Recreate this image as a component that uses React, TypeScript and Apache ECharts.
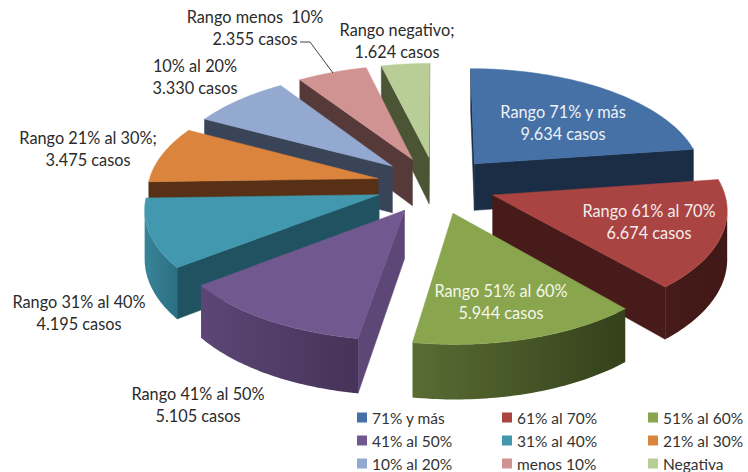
import React, { useEffect, useRef } from "react";
import * as echarts from "echarts";

// ---- data
const sliceNames = ["71% y más", "61% al 70%", "51% al 60%", "41% al 50%", "31% al 40%", "21% al 30%", "10% al 20%", "menos 10%", "Negativa"];
const sliceCases = [9634, 6674, 5944, 5105, 4195, 3475, 3330, 2355, 1624];
const labelHeads = ["Rango 71% y más", "Rango 61% al 70%", "Rango 51% al 60%", "Rango 41% al 50%", "Rango 31% al 40%", "Rango 21% al 30%;", "10% al 20%", "Rango menos  10%", "Rango negativo;"];

// ---- styles
const topColors = ["#4571A7", "#A94442", "#89A54E", "#71588F", "#4198AF", "#DB843D", "#93A9CF", "#D19392", "#B9CD96"];
const wallColors = ["#1A2D45", "#461B19", "#35421C", "#5D4777", "#205261", "#573016", "#3A4459", "#563A39", "#4B5435"];
const rimLeft = ["#1A2D45", "#461B19", "#596C33", "#5B4675", "#398498", "#573016", "#3A4459", "#563A39", "#4B5435"];
const rimRight = ["#1A2D45", "#401816", "#34411B", "#463358", "#2C6F83", "#573016", "#3A4459", "#563A39", "#4B5435"];
const labelColors = ["#EEF2F7", "#F5ECEC", "#F4F7EC", "#2B2B2B", "#2B2B2B", "#2B2B2B", "#2B2B2B", "#2B2B2B", "#2B2B2B"];
const labelSpots = [[563, 122], [649, 221], [501, 301], [198, 404], [79, 312], [88, 148], [195, 76], [255, 27], [397, 40]];
const legendColumns = [
  { names: [0, 3, 6], left: 357 },
  { names: [1, 4, 7], left: 502 },
  { names: [2, 5, 8], left: 648 },
];

// ---- projection of the pie plane
const CX = 436, CY = 185, SCALE_X = 230, SCALE_Y = 110, PERSPECTIVE = 0.11, EXPLODE = 0.26, DEPTH = 47.5;

const total = sliceCases.reduce((a, b) => a + b, 0);
const starts: number[] = [];
sliceCases.reduce((acc, v, i) => { starts[i] = acc; return acc + (v / total) * 2 * Math.PI; }, 0);
const sweepOf = (i: number) => (sliceCases[i] / total) * 2 * Math.PI;
const midOf = (i: number) => starts[i] + sweepOf(i) / 2;

function project(x: number, z: number, drop = 0): number[] {
  const w = 1 - PERSPECTIVE * z;
  return [CX + (SCALE_X * x) / w, CY + (SCALE_Y * z) / w + (drop ? drop / w : 0)];
}

function outline(i: number, drop = 0): number[][] {
  const ox = EXPLODE * Math.sin(midOf(i));
  const oz = -EXPLODE * Math.cos(midOf(i));
  const pts = [project(ox, oz, drop)];
  const steps = 48;
  for (let k = 0; k <= steps; k++) {
    const a = starts[i] + (sweepOf(i) * k) / steps;
    pts.push(project(ox + Math.sin(a), oz - Math.cos(a), drop));
  }
  return pts;
}

const depthOrder = sliceCases.map((_, i) => i).sort((a, b) => -Math.cos(midOf(a)) + Math.cos(midOf(b)));

function renderSlice(params: any) {
  const i = params.seriesIndex;
  const top = outline(i);
  const bottom = outline(i, DEPTH);
  const n = top.length;
  const children: any[] = [];
  // radial walls: apex -> rim start, rim end -> apex
  const radial: number[][] = [[0, 1], [n - 1, 0]];
  radial.forEach(([a, b]) => {
    if (top[b][0] < top[a][0]) {
      children.push({
        type: "polygon",
        shape: { points: [top[a], top[b], bottom[b], bottom[a]] },
        style: { fill: wallColors[i], stroke: wallColors[i], lineWidth: 0.5 },
      });
    }
  });
  // rim wall: the stretches of the arc that face the viewer
  const rimUp: number[][] = [];
  const rimDown: number[][] = [];
  for (let k = 1; k < n; k++) {
    const facing = (k < n - 1 && top[k + 1][0] < top[k][0]) || (k > 1 && top[k][0] < top[k - 1][0]);
    if (facing) {
      rimUp.push(top[k]);
      rimDown.unshift(bottom[k]);
    }
  }
  if (rimUp.length > 1) {
    children.push({
      type: "polygon",
      shape: { points: rimUp.concat(rimDown) },
      style: {
        fill: new echarts.graphic.LinearGradient(0, 0, 1, 0, [
          { offset: 0, color: rimLeft[i] },
          { offset: 1, color: rimRight[i] },
        ]),
      },
    });
  }
  children.push({
    type: "polygon",
    shape: { points: top },
    style: { fill: topColors[i], stroke: topColors[i], lineWidth: 0.5 },
  });
  return { type: "group", children };
}

const FONT = "Lato, 'Noto Sans', sans-serif";
const thousands = (v: number) => String(v).replace(/\B(?=(\d{3})+$)/g, ".");

export default function App() {
  const ref = useRef<HTMLDivElement>(null);
  useEffect(() => {
    document.body.style.margin = "0";
    const chart = echarts.init(ref.current!, undefined, { renderer: "svg" });
    chart.setOption({
      animation: false,
      backgroundColor: "#FFFFFF",
      legend: legendColumns.map((col) => ({
        orient: "vertical",
        left: col.left,
        top: 409,
        itemWidth: 10,
        itemHeight: 10,
        itemGap: 6,
        icon: "rect",
        selectedMode: false,
        padding: 0,
        textStyle: { fontFamily: FONT, fontSize: 15.5, color: "#333333", lineHeight: 17, padding: [0, 0, 0, 0] },
        data: col.names.map((k) => sliceNames[k]),
      })),
      series: sliceNames.map((name, i) => ({
        type: "custom",
        name,
        coordinateSystem: "none",
        z: 2 + depthOrder.indexOf(i),
        silent: true,
        itemStyle: { color: topColors[i] },
        renderItem: renderSlice,
        data: [[sliceCases[i]]],
      })),
      graphic: [
        ...sliceNames.map((_, i) => ({
          type: "text",
          z: 100,
          x: labelSpots[i][0],
          y: labelSpots[i][1],
          style: {
            text: `${labelHeads[i]}\n${thousands(sliceCases[i])} casos`,
            fill: labelColors[i],
            font: `16.3px ${FONT}`,
            lineHeight: 22,
            textAlign: "center",
            textVerticalAlign: "middle",
          },
        })),
        {
          type: "polyline",
          z: 100,
          shape: { points: [[300, 42], [310, 42], [333, 73]] },
          style: { stroke: "#404040", lineWidth: 1, fill: "none" },
        },
      ],
    });
    return () => chart.dispose();
  }, []);
  return <div ref={ref} style={{ width: 748, height: 472 }} />;
}
